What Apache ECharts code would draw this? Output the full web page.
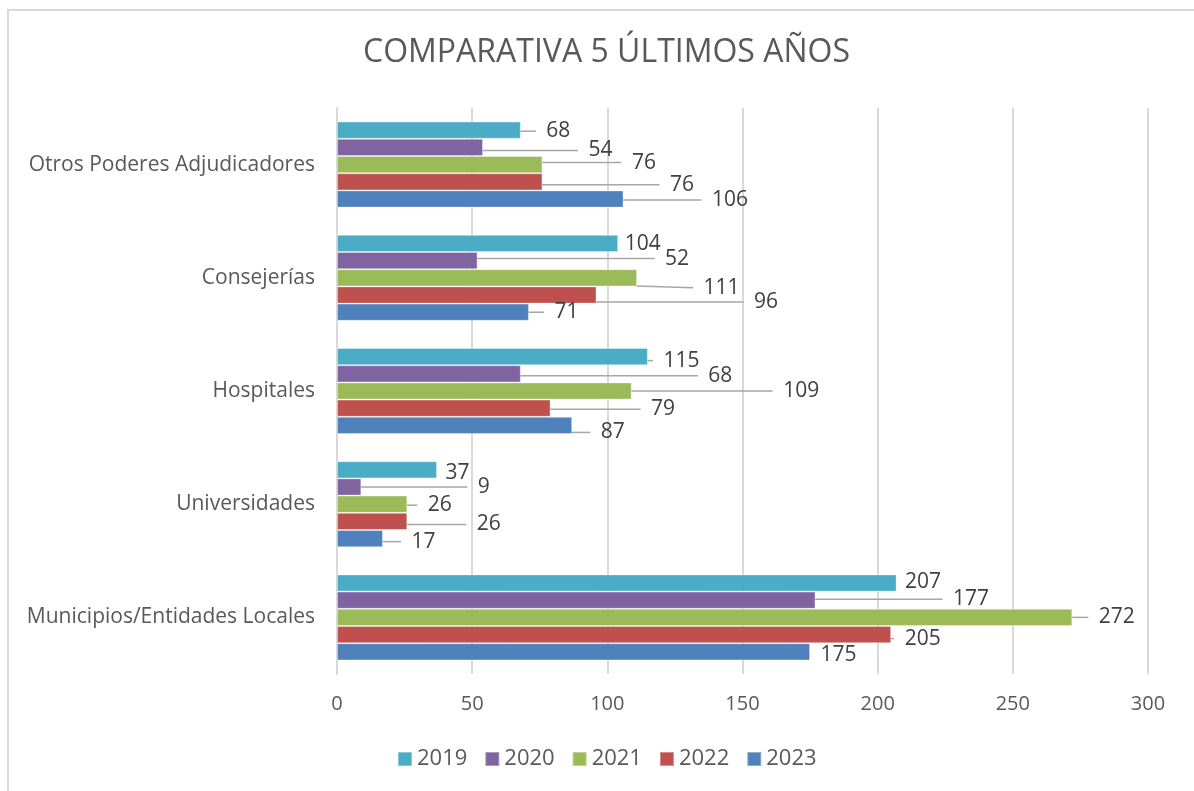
<!DOCTYPE html>
<html>
<head>
<meta charset="utf-8">
<script src="https://cdn.jsdelivr.net/npm/echarts@6/dist/echarts.min.js"></script>
<style>
  html, body { margin: 0; padding: 0; background: #ffffff; }
  #chart { width: 1194px; height: 791px; position: relative; }
  #frame { position: absolute; left: 7px; top: 9px; width: 1300px; height: 900px;
           border-left: 2px solid #d9d9d9; border-top: 2px solid #d9d9d9; pointer-events: none; }
</style>
</head>
<body>
<div id="chart"></div>
<div id="frame"></div>
<script>
// Categories (bottom to top on the axis)
const categories = ['Municipios/Entidades Locales', 'Universidades', 'Hospitales', 'Consejerías', 'Otros Poderes Adjudicadores'];
const years = ['2019', '2020', '2021', '2022', '2023'];
const v2019 = [207, 37, 115, 104, 68];
const v2020 = [177, 9, 68, 52, 54];
const v2021 = [272, 26, 109, 111, 76];
const v2022 = [205, 26, 79, 96, 76];
const v2023 = [175, 17, 87, 71, 106];
const xTicks = [0, 50, 100, 150, 200, 250, 300];

const colors = ['#4BACC6', '#8064A2', '#9BBB59', '#C0504D', '#4F81BD'];

// label displacement (px) mimicking the original label placement with leader lines
const labelDx = [
  [8, 8, 15, 6, 25],
  [137, 116, 187, 187, 105],
  [26, 20, 151, 66, 89],
  [13, 69, 100, 157, 127],
  [10, 28, 28, 25, 88]
];
const labelDy = [
  [-1, 3, 4, 1, 1],
  [-1, 0, 2, -2, 3],
  [0, 1, 0, 10, -2],
  [4, 3, 1, 7, 3],
  [3, 3, 7, 0, 1]
];

const values = [v2019, v2020, v2021, v2022, v2023];
const FONT = '"Open Sans", "Liberation Sans", sans-serif';
const LEAD = '\u2002';   // en space: gap between leader line end and label text
const LEAD_W = 10;       // its approximate width at 21px

const chart = echarts.init(document.getElementById('chart'), null, { renderer: 'canvas' });

const series = years.map((y, i) => ({
  name: y,
  type: 'bar',
  data: values[i],
  barGap: '0%',
  barCategoryGap: '24%',
  itemStyle: { color: colors[i], borderColor: 'rgba(255,255,255,0.35)', borderWidth: 1 },
  label: {
    show: true,
    position: 'right',
    distance: 0,
    formatter: function (p) { return LEAD + p.value; },
    fontFamily: FONT,
    fontSize: 21,
    color: '#404040'
  },
  labelLine: {
    show: true,
    lineStyle: { color: '#a6a6a6', width: 1.5 }
  },
  labelLayout: function (p) {
    return { dx: labelDx[i][p.dataIndex] - LEAD_W, dy: labelDy[i][p.dataIndex], hideOverlap: false };
  },
  emphasis: { disabled: true }
}));

chart.setOption({
  animation: false,
  color: colors,
  title: {
    text: 'COMPARATIVA 5 ÚLTIMOS AÑOS',
    left: 358,
    top: 32,
    textStyle: { fontFamily: FONT, fontSize: 32, fontWeight: 'normal', color: '#595959' }
  },
  legend: {
    data: years,
    bottom: 16,
    left: 392,
    itemWidth: 14,
    itemHeight: 14,
    itemGap: 17,
    icon: 'rect',
    textStyle: { fontFamily: FONT, fontSize: 22, color: '#595959' }
  },
  grid: { left: 337, right: 46, top: 108, bottom: 117, containLabel: false },
  xAxis: {
    type: 'value',
    min: xTicks[0],
    max: xTicks[xTicks.length - 1],
    interval: 50,
    axisLine: { show: false },
    axisTick: { show: false },
    splitLine: { show: true, lineStyle: { color: '#d9d9d9', width: 2 } },
    axisLabel: { fontFamily: FONT, fontSize: 20, color: '#595959', margin: 20 }
  },
  yAxis: {
    type: 'category',
    data: categories,
    axisLine: { show: true, lineStyle: { color: '#d9d9d9', width: 2 } },
    axisTick: { show: false },
    axisLabel: { fontFamily: FONT, fontSize: 21, color: '#595959', margin: 22 }
  },
  series: series
});
</script>
</body>
</html>
